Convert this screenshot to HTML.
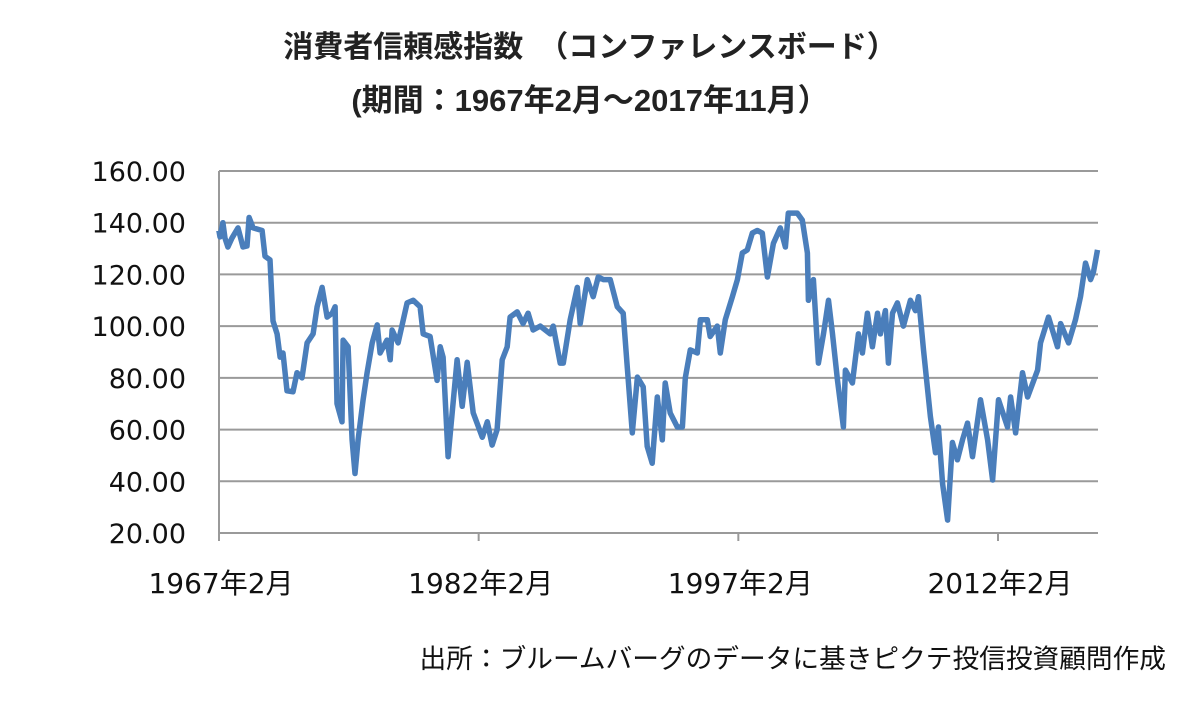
<!DOCTYPE html>
<html><head><meta charset="utf-8"><style>
body{margin:0;background:#fff;width:1200px;height:711px;overflow:hidden}
svg{display:block}
</style></head><body>
<svg id="chart" width="1200" height="711" viewBox="0 0 1200 711">
<text x="590" y="57" text-anchor="middle" font-size="30" font-weight="bold" fill="#222" style="font-family:'Liberation Sans','Noto Sans CJK JP',sans-serif">消費者信頼感指数　（コンファレンスボード）</text>
<text x="590" y="111" text-anchor="middle" font-size="31" font-weight="bold" fill="#222" style="font-family:'Liberation Sans','Noto Sans CJK JP',sans-serif">(期間：1967年2月～2017年11月）</text>
<g id="grid"></g><g id="yticks"></g><g id="xticks"></g><g id="series"></g>
<text x="1166" y="668" text-anchor="end" font-size="26.7" fill="#111" style="font-family:'Liberation Sans','Noto Sans CJK JP',sans-serif">出所：ブルームバーグのデータに基きピクテ投信投資顧問作成</text>
</svg>
<script>
const yTicks=[20,40,60,80,100,120,140,160];
const xTickYears=[1967.083,1982.083,1997.083,2012.083];
const xTickLabels=["1967年2月","1982年2月","1997年2月","2012年2月"];
const dates=[1967.08,1967.14,1967.31,1967.43,1967.60,1967.83,1968.18,1968.47,1968.70,1968.82,1969.05,1969.57,1969.74,1970.03,1970.20,1970.44,1970.61,1970.78,1971.01,1971.36,1971.59,1971.88,1972.17,1972.52,1972.75,1973.04,1973.33,1973.62,1973.79,1973.90,1974.19,1974.25,1974.54,1974.77,1974.94,1975.12,1975.41,1975.64,1975.93,1976.22,1976.39,1976.79,1976.97,1977.08,1977.43,1977.95,1978.30,1978.70,1978.88,1979.28,1979.68,1979.86,1980.03,1980.32,1980.84,1981.13,1981.42,1981.77,1982.29,1982.58,1982.86,1983.15,1983.44,1983.73,1983.90,1984.31,1984.65,1984.94,1985.23,1985.64,1986.22,1986.39,1986.79,1986.97,1987.37,1987.78,1987.95,1988.36,1988.70,1988.99,1989.28,1989.68,1990.09,1990.43,1990.67,1990.96,1991.25,1991.59,1991.82,1992.11,1992.40,1992.69,1992.86,1993.15,1993.56,1993.85,1994.02,1994.31,1994.71,1994.89,1995.29,1995.46,1995.87,1996.04,1996.33,1996.74,1997.03,1997.31,1997.60,1997.89,1998.18,1998.47,1998.76,1999.11,1999.51,1999.80,1999.97,2000.49,2000.78,2001.07,2001.13,2001.42,2001.71,2002.00,2002.29,2002.52,2002.81,2003.15,2003.27,2003.67,2004.02,2004.25,2004.54,2004.83,2005.12,2005.29,2005.58,2005.75,2005.99,2006.27,2006.62,2007.02,2007.31,2007.49,2007.78,2008.18,2008.47,2008.64,2008.88,2009.17,2009.45,2009.74,2010.03,2010.32,2010.61,2011.07,2011.48,2011.77,2012.11,2012.63,2012.81,2013.10,2013.50,2013.79,2014.37,2014.54,2015.00,2015.52,2015.70,2016.16,2016.56,2016.85,2017.14,2017.43,2017.60,2017.83];
const values=[137,134.5,140,134,130.6,134,138,130.6,131,142,138,137,127,125.6,102,97,88,89.6,75,74.6,82,80,93.5,97,107.5,115,103.5,105,107.5,70,63,94.6,92,56,43,56,71.5,82,93.5,100.5,89.6,94.6,87,98.5,93.5,109,110,107.5,97,96,79,92,88,49.5,87,69,86,66.5,57,63,54,60,87,92,103.5,105.5,101,105,98.5,100,97,100,85.7,85.7,102.5,115,101,118,111.4,119,118,118,107.5,105,84,58.7,80.3,76.5,53.5,47,72.6,56,78,66.4,61,61,80,90.8,89.6,102.5,102.5,96,100,89.6,102.5,111.4,118,128.3,129.5,136,137,136,119,132,138,130.6,143.7,143.7,141,128.3,110,118,85.7,97,110,97,79,61,83,78,97,89.6,105,92,105,97,106,85.7,105,109,100,110,106,111.4,90.8,65,51,61,39,25,55,48.3,56,62.5,49.5,71.5,56,40.5,71.5,61,72.6,58.7,82,72.6,83,93.5,103.5,92,101,93.5,102.5,111.4,124.4,118,121,129.5];
const NS="http://www.w3.org/2000/svg";
const X0=219,X1=1098,Y0=533,Y1=171;
const xScale=t=>X0+(t-1967.083)*(998-219)/45;
const yScale=v=>Y0-(v-20)*(Y0-Y1)/140;
function mk(tag,attrs,parent){const e=document.createElementNS(NS,tag);for(const k in attrs)e.setAttribute(k,attrs[k]);parent.appendChild(e);return e;}
const grid=document.getElementById('grid'),yt=document.getElementById('yticks'),xt=document.getElementById('xticks'),se=document.getElementById('series');
yTicks.forEach(v=>{
 const l=mk('line',{x1:X0,x2:X1,y1:yScale(v),y2:yScale(v),stroke:'#9a9a9a','stroke-width':2},grid);
 
 
 const t=mk('text',{x:186,y:yScale(v)+10,'text-anchor':'end','font-size':27,fill:'#111',style:"font-family:'DejaVu Sans',sans-serif"},yt);
 t.textContent=v.toFixed(2);
 
 
});
const ax=mk('line',{x1:X0,x2:X0,y1:Y1,y2:Y0+8,stroke:'#9a9a9a','stroke-width':2},grid);


xTickYears.forEach((yr,i)=>{
 const x=xScale(yr);
 const tk=mk('line',{x1:x,x2:x,y1:Y0,y2:Y0+8,stroke:'#9a9a9a','stroke-width':2},xt);
 
 
 const t=mk('text',{x:x+2,y:593,'text-anchor':'middle','font-size':28,fill:'#111',style:"font-family:'DejaVu Sans','Noto Sans CJK JP',sans-serif"},xt);
 t.textContent=xTickLabels[i];
 
 
});
const pts=dates.map((d,i)=>xScale(d).toFixed(1)+','+yScale(values[i]).toFixed(1)).join(' ');
const pl=mk('polyline',{points:pts,fill:'none',stroke:'#4a7ebb','stroke-width':5.5,'stroke-linejoin':'round'},se);


</script>
</body></html>
